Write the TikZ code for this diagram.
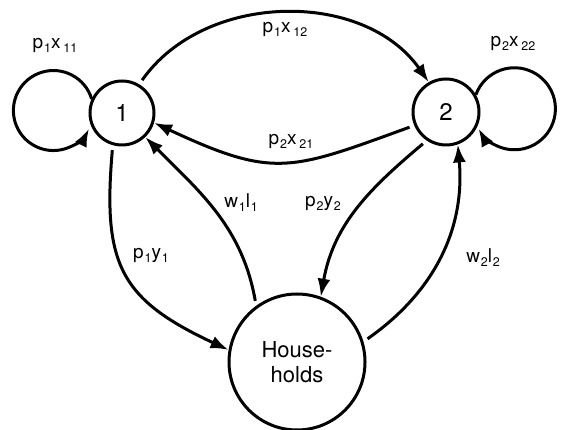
\documentclass[tikz,border=0pt]{standalone}
\usepackage{fontspec}
\setmainfont{TeX Gyre Heros}
\usetikzlibrary{arrows.meta}
\newcommand{\lo}[1]{\kern0.8pt\raisebox{-4pt}{\fontsize{12.5}{13}\selectfont#1}}

\begin{document}
\begin{tikzpicture}[
    x=1pt, y=1pt,
    every node/.style={font=\fontsize{19}{21}\selectfont},
    sec/.style={circle, draw, line width=3pt, inner sep=0pt, font=\fontsize{24}{26}\selectfont},
    a/.style={-{Latex[length=18pt,width=13pt]}, line width=3pt, shorten <=5pt},
    lp/.style={-{Latex[length=18pt,width=13pt]}, line width=3pt},
    lb/.style={inner sep=1pt}
]
\useasboundingbox (0,0) rectangle (561,430);
% sectors and households
\node[sec, minimum size=64pt] (one) at (122,317) {1};
\node[sec, minimum size=66pt] (two) at (446,318) {2};
\node[sec, minimum size=136pt, align=center, font=\fontsize{22}{25}\selectfont] (hh) at (297,68) {House-\\holds};
% flows between sectors
\draw[lp] (one.155) arc[start angle=17, end angle=333, radius=40];
\draw[lp] (two.30) arc[start angle=160, end angle=-151, radius=41];
\draw[a] (one.59) to[out=55,in=125] (two.120);
\draw[a] (two.203) to[out=200,in=-25,looseness=1.3] (one.-17);
% flows with households
\draw[a] (one.254) to[out=265,in=155,looseness=1.3] (hh.170);
\draw[a] (hh.126) to[out=100,in=-45] (one.-46);
\draw[a] (two.236) to[out=220,in=80] (hh.70);
\draw[a] (hh.17) to[out=35,in=275] (two.290);
% labels
\node[lb] (l11) at (55,385) {p\lo{1}x\lo{\,11}};
\node[lb] (l12) at (285,401) {p\lo{1}x\lo{\,12}};
\node[lb] (l22) at (513,387) {p\lo{2}x\lo{\,22}};
\node[lb] (l21) at (291,289) {p\lo{2}x\lo{\,21}};
\node[lb] (ly1) at (151,175) {p\lo{1}y\lo{1}};
\node[lb] (lw1) at (241,227) {w\lo{1}l\lo{1}};
\node[lb] (ly2) at (323,227) {p\lo{2}y\lo{2}};
\node[lb] (lw2) at (483,172) {w\lo{2}l\lo{2}};
\end{tikzpicture}
\end{document}
